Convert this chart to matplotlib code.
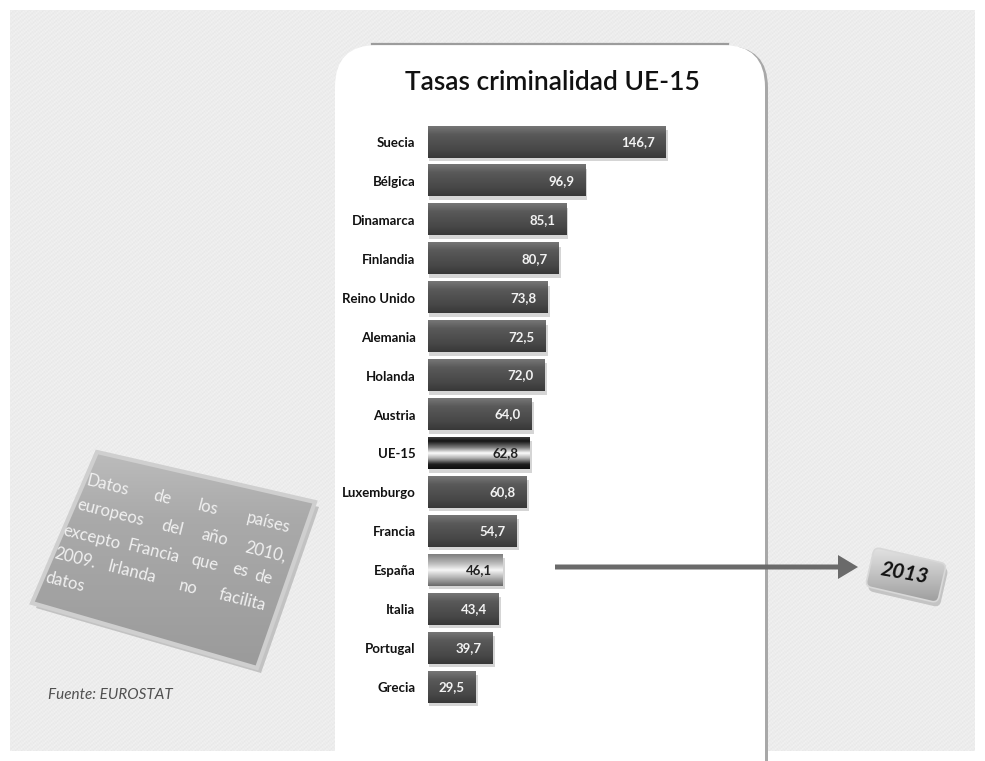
import numpy as np
import matplotlib
matplotlib.use("Agg")
import matplotlib.pyplot as plt
from matplotlib.patches import FancyBboxPatch, Polygon, Rectangle, FancyArrow
from matplotlib.colors import LinearSegmentedColormap
from matplotlib.transforms import Affine2D

plt.rcParams["font.family"] = ["Lato", "DejaVu Sans"]

countries = ["Suecia", "Bélgica", "Dinamarca", "Finlandia", "Reino Unido", "Alemania", "Holanda",
             "Austria", "UE-15", "Luxemburgo", "Francia", "España", "Italia", "Portugal", "Grecia"]
values = [146.7, 96.9, 85.1, 80.7, 73.8, 72.5, 72.0, 64.0, 62.8, 60.8, 54.7, 46.1, 43.4, 39.7, 29.5]
highlight = {"UE-15": "eu", "España": "es"}
title = "Tasas criminalidad UE-15"
note_lines = [["Datos", "de", "los", "países"],
              ["europeos", "del", "año", "2010,"],
              ["excepto", "Francia", "que", "es", "de"],
              ["2009.", "Irlanda", "no", "facilita"],
              ["datos"]]
source = "Fuente: EUROSTAT"
year_tag = "2013"

W, H = 985, 761
fig = plt.figure(figsize=(W / 100, H / 100), dpi=100)
fig.patch.set_facecolor("white")

# background / decoration axes in pixel coordinates
bg = fig.add_axes([0, 0, 1, 1])
bg.set_xlim(0, W); bg.set_ylim(H, 0); bg.axis("off")
# light paper texture (regular weave pattern)
yy, xx = np.mgrid[0:H - 20, 0:W - 20]
weave = 0.925 + 0.012 * np.sin(xx * 2.1) * np.sin(yy * 1.7) + 0.008 * np.sin(xx * 0.9 + yy * 1.3)
bg.imshow(weave, cmap="gray", vmin=0, vmax=1, extent=(10, W - 10, H - 10, 10),
          interpolation="nearest", zorder=0)

# white rounded panel
bg.add_patch(FancyBboxPatch((337, 46), 431, 760, boxstyle="round,pad=0,rounding_size=42",
                            facecolor="#a8a8a8", edgecolor="none", zorder=1))
bg.add_patch(FancyBboxPatch((335, 45), 430, 760, boxstyle="round,pad=0,rounding_size=42",
                            facecolor="white", edgecolor="none", zorder=2))
bg.plot([372, 728], [43.5, 43.5], color="#9c9c9c", lw=1.6, zorder=2)
bg.text(552, 83, title, ha="center", va="center", fontsize=19, fontweight="semibold",
        color="#111111", zorder=3)

# note box (tilted)
corners = [(97, 452), (315, 502), (257, 668), (32, 603)]
bg.add_patch(Polygon([(x + 4, y + 5) for x, y in corners], closed=True, facecolor="#c2c2c2",
                     edgecolor="none", zorder=2))
box = Polygon(corners, closed=True, facecolor="none", edgecolor="#cfcfcf", lw=3, zorder=4)
bg.add_patch(box)
box_cmap = LinearSegmentedColormap.from_list("box", ["#bdbdbd", "#a9a9a9", "#a2a2a2", "#9a9a9a"])
bim = bg.imshow(np.linspace(0, 1, 64).reshape(-1, 1), cmap=box_cmap, aspect="auto",
                extent=(25, 320, 675, 445), zorder=3)
bim.set_clip_path(box)
word_pos = [[(108, 485), (162, 497), (208, 508), (268, 523)],
            [(110, 513), (172, 528), (215, 537), (265, 552)],
            [(92, 537), (153, 552), (205, 563), (240, 570), (263, 577)],
            [(75, 558), (132, 572), (188, 587), (242, 600)],
            [(65, 582)]]
for words, pos in zip(note_lines, word_pos):
    for w, (x, y) in zip(words, pos):
        bg.text(x, y, w, ha="center", va="center", rotation=-14, rotation_mode="anchor",
                fontsize=12, color="#f0f0f0", zorder=5)
bg.text(48, 695, source, ha="left", va="center", fontsize=11, style="italic", color="#505050", zorder=3)

# arrow and 2013 tag
bg.add_patch(FancyArrow(555, 567, 303, 0, width=5, head_width=24, head_length=20,
                        length_includes_head=True, facecolor="#6a6a6a", edgecolor="none", zorder=3))
cx, cy = 906, 575
rot = Affine2D().rotate_deg_around(cx, cy, 13) + bg.transData
shadow = FancyBboxPatch((cx - 37 + 3, cy - 20 + 4), 74, 40, boxstyle="round,pad=0,rounding_size=6",
                        facecolor="#c4c4c4", edgecolor="none", transform=rot, zorder=3)
bg.add_patch(shadow)
tag = FancyBboxPatch((cx - 37, cy - 20), 74, 40, boxstyle="round,pad=0,rounding_size=6",
                     facecolor="none", edgecolor="#d8d8d8", lw=1.2, transform=rot, zorder=5)
bg.add_patch(tag)
tag_cmap = LinearSegmentedColormap.from_list("tag", ["#f0f0f0", "#d2d2d2", "#b0b0b0", "#8e8e8e"])
im = bg.imshow(np.linspace(0, 1, 64).reshape(-1, 1), cmap=tag_cmap, aspect="auto",
               extent=(cx - 50, cx + 50, cy + 40, cy - 40), zorder=4)
im.set_clip_path(tag)
bg.text(cx - 1, cy - 2, year_tag, ha="center", va="center", rotation=-10, fontsize=15,
        fontweight="bold", style="italic", color="#111111", zorder=6)
bg.set_xlim(0, W); bg.set_ylim(H, 0)

# bar chart axes: zero at x=428 px, 1.622 px per unit
x0, x1 = 428, 740
ytop, ybot = 122.5, 706.5
ax = fig.add_axes([x0 / W, 1 - ybot / H, (x1 - x0) / W, (ybot - ytop) / H])
ax.patch.set_alpha(0)
xmax = (x1 - x0) / 1.622
n = len(countries)
h = 0.8
cmaps = {
    "normal": LinearSegmentedColormap.from_list("n", ["#767676", "#5a5a5a", "#505050", "#474747", "#383838"]),
    "eu": LinearSegmentedColormap.from_list("eu", [(0, "#3a3a3a"), (0.12, "#161616"), (0.32, "#7a7a7a"),
                                                   (0.5, "#ffffff"), (0.66, "#b0b0b0"), (0.86, "#1e1e1e"),
                                                   (1, "#0e0e0e")]),
    "es": LinearSegmentedColormap.from_list("es", [(0, "#7e7e7e"), (0.3, "#bdbdbd"), (0.5, "#f7f7f7"),
                                                   (0.72, "#b8b8b8"), (1, "#6a6a6a")]),
}
grad = np.linspace(0, 1, 64).reshape(-1, 1)
for i, (c, v) in enumerate(zip(countries, values)):
    style = highlight.get(c, "normal")
    ax.add_patch(Rectangle((0.8, i - h / 2 + 0.09), v + 0.6, h, facecolor="#c4c4c4",
                           edgecolor="none", alpha=0.7, zorder=1))
    ax.imshow(grad, cmap=cmaps[style], aspect="auto", extent=(0, v, i + h / 2, i - h / 2),
              interpolation="bilinear", zorder=2)
    txtcol = "#f2f2f2" if style == "normal" else "#222222"
    ax.text(v - 6.8, i, f"{v:.1f}".replace(".", ","), ha="right", va="center",
            fontsize=9.5, fontweight="bold", color=txtcol, zorder=3)
ax.set_xlim(0, xmax)
ax.set_ylim(n - 0.5, -0.5)
ax.set_yticks(range(n))
ax.set_yticklabels(countries, fontsize=9.5, fontweight="bold", color="#111111")
ax.tick_params(axis="y", length=0, pad=9)
ax.set_xticks([])
for s in ax.spines.values():
    s.set_visible(False)

fig.savefig("out.png", dpi=100)
